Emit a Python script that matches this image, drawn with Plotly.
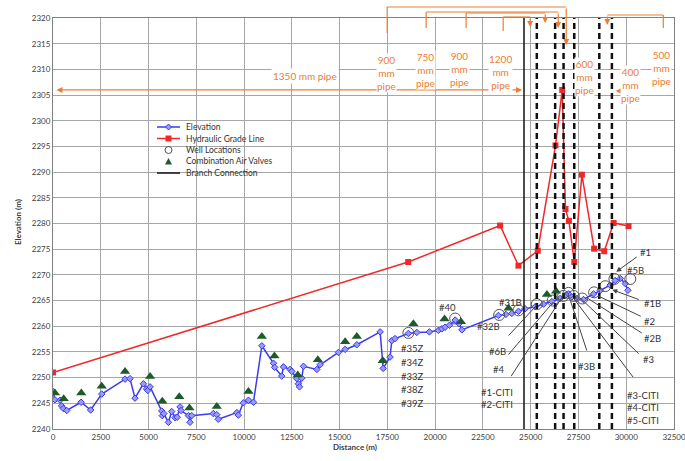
import plotly.graph_objects as go

# ---------------- data ----------------
elev_x = [0, 100, 370, 450, 540, 720, 1470, 1970, 2550, 3770, 4030, 4290, 4730, 4900, 4960, 5080,
          5690, 5720, 5800, 6040, 6210, 6390, 6500, 6650, 6700, 7090, 7170, 7260, 8390, 8570, 8650,
          9620, 9700, 9960, 10230, 10490, 10930, 11540, 11600, 11970, 12060, 12410, 12500, 12760,
          12840, 12900, 13020, 13110, 13810, 13980, 14940, 15290, 15900, 17120, 17260, 17280, 17640,
          17730, 17900, 18600, 19040, 19700, 20170, 20350, 20520, 20750, 21050, 21250, 21400, 23310,
          23700, 24010, 24360, 24710, 25240, 25670, 26110, 26540, 26810, 26980, 27150, 27420, 27760,
          28290, 28640, 29160, 29420, 29690, 29950, 30090]
elev_y = [2247.3, 2245.7, 2245.6, 2244.5, 2244.0, 2243.6, 2245.2, 2243.7, 2246.8, 2249.7, 2249.8,
          2246.0, 2248.8, 2247.8, 2247.5, 2248.2, 2243.5, 2242.6, 2243.0, 2241.3, 2243.4, 2242.2,
          2242.3, 2244.3, 2243.6, 2242.6, 2241.3, 2242.6, 2243.0, 2242.8, 2241.9, 2243.2, 2242.7,
          2245.1, 2245.6, 2245.2, 2256.2, 2252.8, 2252.0, 2250.3, 2252.1, 2251.6, 2251.2, 2249.8,
          2248.8, 2248.2, 2249.9, 2252.2, 2251.6, 2252.5, 2254.9, 2255.5, 2256.4, 2258.9, 2253.3,
          2251.8, 2254.0, 2257.2, 2257.6, 2258.6, 2258.8, 2258.9, 2259.2, 2259.5, 2259.8, 2260.2,
          2261.2, 2260.5, 2259.3, 2262.1, 2262.3, 2262.5, 2262.9, 2263.4, 2263.8, 2264.3, 2264.8,
          2265.4, 2266.0, 2266.3, 2265.7, 2265.4, 2265.2, 2266.3, 2267.0, 2268.0, 2268.9, 2269.3,
          2268.3, 2267.0]

hgl_x = [0, 18590, 23400, 24360, 25370, 26300, 26650, 26820, 27000, 27280, 27680, 28320, 28850, 29340, 30120]
hgl_y = [2251.0, 2272.5, 2279.6, 2271.8, 2274.7, 2295.2, 2306.0, 2282.8, 2280.5, 2272.5, 2289.5,
         2275.1, 2274.6, 2280.1, 2279.5]

well_x = [18600, 21050, 23350, 24360, 25320, 26150, 26700, 26980, 27250, 27700, 28320, 28900, 29380, 30210]
well_y = [2258.7, 2261.5, 2262.2, 2263.1, 2264.3, 2265.0, 2265.9, 2266.5, 2265.9, 2265.4, 2266.6,
          2267.8, 2269.2, 2269.2]

valve_x = [100, 560, 1480, 2550, 3770, 5080, 5720, 6610, 7140, 8570, 10230, 10930, 11590, 12810,
           13860, 15290, 15900, 17260, 18860, 20490, 21350, 23840, 25850, 26330]
valve_y = [2247.0, 2245.9, 2247.0, 2248.3, 2251.2, 2250.2, 2245.4, 2246.3, 2244.1, 2244.4, 2247.3,
           2258.0, 2254.2, 2250.5, 2253.5, 2257.0, 2258.0, 2253.3, 2260.5, 2261.4, 2260.9, 2263.5,
           2266.2, 2266.8]

branch_x = 24650
break_x = [25320, 26280, 26720, 27280, 28590, 29250]

x_ticks = list(range(0, 32501, 2500))
x_tick_text = [str(v) for v in x_ticks]
y_ticks = list(range(2240, 2321, 5))
y_tick_text = [str(v) for v in y_ticks]
X_RANGE = [0, 32500]
Y_RANGE = [2240, 2320]

legend_names = ["Elevation", "Hydraulic Grade Line", "Well Locations", "Combination Air Valves",
                "Branch Connection"]

# well labels: text, label x, label y, leader tail x, tail y, head x, head y, arrowhead
well_labels = [
    ("#6B", 23250, 2255.0, 23770, 2257.9, 25340, 2264.2, 0),
    ("#4", 23330, 2251.5, 23770, 2254.2, 26180, 2264.7, 0),
    ("#1-CITI<br>#2-CITI", 23250, 2246.0, 23930, 2250.0, 26650, 2265.7, 0),
    ("#3B", 27900, 2252.1, 27960, 2255.0, 27070, 2265.1, 0),
    ("#3-CITI<br>#4-CITI<br>#5-CITI", 30900, 2244.0, 30420, 2249.8, 27230, 2265.5, 0),
    ("#3", 31150, 2253.5, 30730, 2254.4, 27590, 2265.5, 0),
    ("#2B", 31350, 2257.7, 30890, 2258.5, 27960, 2265.5, 0),
    ("#2", 31200, 2261.0, 30840, 2261.8, 28530, 2265.9, 0),
    ("#1B", 31350, 2264.4, 30730, 2265.1, 29270, 2267.1, 2),
    ("#1", 31000, 2274.3, 30630, 2273.7, 29480, 2270.6, 2),
]
plain_labels = [
    ("#40", 20630, 2263.6),
    ("#32B", 22770, 2259.9),
    ("#31B", 23930, 2264.7),
    ("#5B", 30480, 2270.8),
]
z_labels = ["#35Z", "#34Z", "#33Z", "#38Z", "#39Z"]
z_label_x = 18800
z_label_y0 = 2255.6

# pipe size labels (text, x, center-row in px from top of figure)
pipe_labels = [
    ("900<br>mm<br>pipe", 17440, 53),
    ("750<br>mm<br>pipe", 19480, 50),
    ("900<br>mm<br>pipe", 21250, 49),
    ("1200<br>mm<br>pipe", 23400, 52),
    ("600<br>mm<br>pipe", 27800, 57),
    ("400<br>mm<br>pipe", 30210, 65),
    ("500<br>mm<br>pipe", 31830, 48),
]
# brackets: label x, horizontal row px, end x, arrow tip row px, label top row px
brackets = [
    (17490, 7, 26860, 45, 33),
    (19530, 12, 26440, 28, 28),
    (21620, 13, 25760, 23, 28),
    (23560, 17, 24970, 27, 31),
    (31940, 15, 29010, 25, 28),
]

ORANGE = "#ED7D31"
BLUE = "#3A3AF0"
RED = "#F0282A"
GREEN = "#1D5C2A"
FONT = "Lato"
W, H = 685, 461
ML, MR, MT, MB = 53, 11, 18, 32
PW = W - ML - MR
PH = H - MT - MB


def prow(py):
    """figure pixel row -> paper y"""
    return (H - MB - py) / PH


def pcol(px):
    """figure pixel column -> paper x"""
    return (px - ML) / PW


fig = go.Figure()

fig.add_trace(go.Scatter(
    x=elev_x, y=elev_y, mode="lines+markers", name=legend_names[0],
    line=dict(color=BLUE, width=1.5),
    marker=dict(symbol="diamond", size=5, color="#9A9AF8", line=dict(color=BLUE, width=1)),
))
fig.add_trace(go.Scatter(
    x=hgl_x, y=hgl_y, mode="lines+markers", name=legend_names[1],
    line=dict(color=RED, width=1.5),
    marker=dict(symbol="square", size=6, color=RED),
))
fig.add_trace(go.Scatter(
    x=well_x, y=well_y, mode="markers", name=legend_names[2],
    marker=dict(symbol="circle-open", size=11, color="#555555", line=dict(width=1)),
))
fig.add_trace(go.Scatter(
    x=valve_x, y=valve_y, mode="markers", name=legend_names[3],
    marker=dict(symbol="triangle-up", size=9, color=GREEN),
))
fig.add_trace(go.Scatter(
    x=[branch_x, branch_x], y=Y_RANGE, mode="lines", name=legend_names[4],
    line=dict(color="#111111", width=1.5),
))

shapes = []
for bx in break_x:
    shapes.append(dict(type="line", xref="x", yref="paper", x0=bx, x1=bx, y0=0, y1=1,
                       line=dict(color="#111111", width=2.5, dash="6px,4px"), layer="above"))

annotations = []
# bracket lines at top
for lx, row, ex, tip, ltop in brackets:
    shapes.append(dict(type="line", xref="x", yref="paper", x0=lx, x1=lx, y0=prow(ltop), y1=prow(row),
                       line=dict(color=ORANGE, width=1.2)))
    shapes.append(dict(type="line", xref="x", yref="paper", x0=lx, x1=ex, y0=prow(row), y1=prow(row),
                       line=dict(color=ORANGE, width=1.2)))
    annotations.append(dict(xref="x", yref="paper", x=ex, y=prow(tip), ax=0, ay=-(tip - row),
                            text="", showarrow=True, arrowhead=2, arrowsize=1, arrowwidth=1.2,
                            arrowcolor=ORANGE))

# 1350 mm pipe double arrow
y1350 = 2306.0
annotations.append(dict(xref="x", yref="y", axref="x", ayref="y", x=24550, y=y1350, ax=100, ay=y1350,
                        text="", showarrow=True, arrowhead=2, startarrowhead=2, arrowside="end+start",
                        arrowwidth=1.2, arrowcolor=ORANGE))
annotations.append(dict(xref="x", yref="y", x=13190, y=2308.7, text="1350 mm pipe", showarrow=False,
                        bgcolor="white", font=dict(color=ORANGE, size=10, family=FONT)))
# 400 mm double arrow
y400 = 2305.8
annotations.append(dict(xref="x", yref="y", axref="x", ayref="y", x=30680, y=y400, ax=29370, ay=y400,
                        text="", showarrow=True, arrowhead=2, startarrowhead=2, arrowside="end+start",
                        arrowwidth=1.2, arrowcolor=ORANGE))
for txt, lx, crow in pipe_labels:
    annotations.append(dict(xref="x", yref="paper", x=lx, y=prow(crow), text=txt, showarrow=False,
                            bgcolor="white", borderpad=0,
                            font=dict(color=ORANGE, size=10, family=FONT)))

# well labels with leader lines
for txt, lx, ly, tx, ty, hx, hy, head in well_labels:
    annotations.append(dict(xref="x", yref="y", axref="x", ayref="y", x=hx, y=hy, ax=tx, ay=ty,
                            text="", showarrow=True, arrowhead=head, arrowsize=1, arrowwidth=1,
                            arrowcolor="#444444"))
    annotations.append(dict(xref="x", yref="y", x=lx, y=ly, text=txt, showarrow=False,
                            font=dict(color="#333333", size=9.5, family=FONT)))
for txt, lx, ly in plain_labels:
    annotations.append(dict(xref="x", yref="y", x=lx, y=ly, text=txt, showarrow=False,
                            font=dict(color="#333333", size=9.5, family=FONT)))
for i, txt in enumerate(z_labels):
    annotations.append(dict(xref="x", yref="y", x=z_label_x, y=z_label_y0 - i * 2.65, text=txt,
                            showarrow=False, font=dict(color="#333333", size=9.5, family=FONT)))

# axis titles
annotations.append(dict(xref="paper", yref="paper", x=pcol(355), y=prow(454), text="<b>Distance (m)</b>",
                        showarrow=False, font=dict(size=8, color="#404040", family=FONT)))
annotations.append(dict(xref="paper", yref="paper", x=pcol(11), y=prow(222), text="<b>Elevation (m)</b>",
                        textangle=-90, showarrow=False, font=dict(size=8, color="#404040", family=FONT)))

# ---- compact legend drawn in paper space (Excel-style) ----
leg_rows = [127, 138.5, 150, 161.5, 173]
lx0, lx1, lxc, ltx = 157, 180, 168.5, 184
for i, name in enumerate(legend_names):
    r = leg_rows[i]
    annotations.append(dict(xref="paper", yref="paper", x=pcol(ltx), y=prow(r), text=name,
                            xanchor="left", yanchor="middle", showarrow=False,
                            font=dict(size=8.5, color="#333333", family=FONT)))
# line samples
for i, col in [(0, BLUE), (1, RED), (4, "#111111")]:
    shapes.append(dict(type="line", xref="paper", yref="paper", x0=pcol(lx0), x1=pcol(lx1),
                       y0=prow(leg_rows[i]), y1=prow(leg_rows[i]), line=dict(color=col, width=1.5)))
# diamond
r = leg_rows[0]
shapes.append(dict(type="path", xref="paper", yref="paper",
                   path="M {a},{b} L {c},{d} L {a},{e} L {f},{d} Z".format(
                       a=pcol(lxc), b=prow(r - 3), c=pcol(lxc + 3), d=prow(r), e=prow(r + 3), f=pcol(lxc - 3)),
                   fillcolor="#9A9AF8", line=dict(color=BLUE, width=1)))
# square
r = leg_rows[1]
shapes.append(dict(type="rect", xref="paper", yref="paper", x0=pcol(lxc - 3), x1=pcol(lxc + 3),
                   y0=prow(r + 3), y1=prow(r - 3), fillcolor=RED, line=dict(color=RED, width=0)))
# circle
r = leg_rows[2]
shapes.append(dict(type="circle", xref="paper", yref="paper", x0=pcol(lxc - 3.5), x1=pcol(lxc + 3.5),
                   y0=prow(r + 3.5), y1=prow(r - 3.5), line=dict(color="#555555", width=1)))
# triangle
r = leg_rows[3]
shapes.append(dict(type="path", xref="paper", yref="paper",
                   path="M {a},{b} L {c},{d} L {e},{d} Z".format(
                       a=pcol(lxc), b=prow(r - 3.5), c=pcol(lxc + 3.5), d=prow(r + 3), e=pcol(lxc - 3.5)),
                   fillcolor=GREEN, line=dict(color=GREEN, width=0)))

fig.update_layout(
    width=W, height=H,
    margin=dict(l=ML, r=MR, t=MT, b=MB, autoexpand=False),
    paper_bgcolor="white", plot_bgcolor="white",
    font=dict(family=FONT, size=8, color="#404040"),
    shapes=shapes, annotations=annotations,
    showlegend=False,
    xaxis=dict(range=X_RANGE, tickvals=x_ticks, ticktext=x_tick_text, showgrid=True,
               gridcolor="#A6A6A6", gridwidth=1, automargin=False, ticklabeloverflow="allow",
               showline=True, linecolor="#808080", mirror=True, zeroline=False, ticks="",
               tickfont=dict(size=8)),
    yaxis=dict(range=Y_RANGE, tickvals=y_ticks, ticktext=y_tick_text, showgrid=True,
               gridcolor="#A6A6A6", gridwidth=1, automargin=False, ticklabeloverflow="allow",
               showline=True, linecolor="#808080", mirror=True, zeroline=False, ticks="",
               tickfont=dict(size=8)),
)

fig.write_html("out.html", config={"displayModeBar": False},
               post_script="document.body.style.margin='0';document.body.style.overflow='hidden';")
